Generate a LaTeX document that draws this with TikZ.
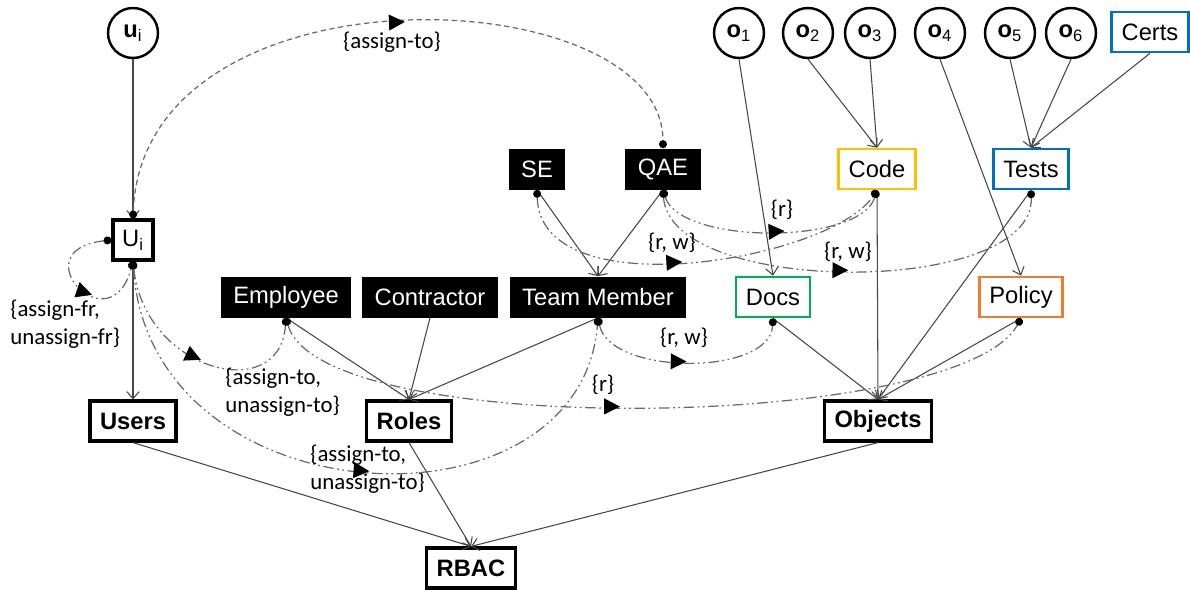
\documentclass[tikz,border=0pt]{standalone}
\usepackage{fontspec}
\setmainfont{Liberation Sans}
\newfontfamily\lblfont{Carlito}
\usetikzlibrary{arrows.meta,decorations.markings}
\definecolor{codecol}{RGB}{255,192,0}
\definecolor{testcol}{RGB}{0,112,192}
\definecolor{doccol}{RGB}{0,176,80}
\definecolor{polcol}{RGB}{237,125,49}
\definecolor{linecol}{RGB}{70,70,70}
\definecolor{arccol}{RGB}{105,105,105}
\begin{document}
\begin{tikzpicture}[x=0.02cm,y=-0.02cm,
    every node/.style={font=\fontsize{13.5}{16}\selectfont},
    obj/.style={circle,draw,line width=1.4pt,minimum size=1cm,inner sep=0pt},
    role/.style={fill=black,text=white,minimum height=0.82cm,inner xsep=0.25cm},
    kind/.style={draw=#1,line width=1.5pt,minimum height=0.8cm,inner xsep=0.2cm},
    base/.style={draw,line width=1.8pt,font=\fontsize{13.5}{16}\selectfont\bfseries,minimum height=0.8cm,inner xsep=0.2cm},
    lbl/.style={font=\lblfont\fontsize{13}{16}\selectfont,align=left,inner sep=0pt},
    link/.style={draw=linecol,line width=0.6pt,-{Straight Barb[length=4pt,width=7pt]}},
    perm/.style={draw=arccol,line width=0.7pt,
        {Circle[length=4.5pt,color=black]}-{Circle[length=4.5pt,color=black]},
        dash pattern=on 6pt off 2pt on 1pt off 2pt on 1pt off 2pt,
        postaction={decorate},
        decoration={markings,mark=at position #1 with {\arrow[black]{Triangle[length=9pt,width=9pt]}}}},
    perm/.default=0.5]
\useasboundingbox (0,0) rectangle (1190,589);

\node[obj] (ui) at (133,33) {\textbf{u}\textsubscript{i}};
\foreach \i/\x in {1/739,2/808,3/870,4/940,5/1010,6/1071}
    \node[obj] (o\i) at (\x,33) {\textbf{o}\textsubscript{\i}};
\node[kind=testcol] (certs) at (1150,32) {Certs};
\node[draw,line width=1.8pt,minimum size=0.8cm,inner sep=0pt] (Ui) at (133,240) {U\textsubscript{i}};
\node[role] (se) at (537,169) {SE};
\node[role] (qae) at (663,169) {QAE};
\node[kind=codecol] (code) at (877,169) {Code};
\node[kind=testcol] (tests) at (1031,169) {Tests};
\node[role] (employee) at (286,297) {Employee};
\node[role] (contractor) at (430,297) {Contractor};
\node[role] (member) at (598,297) {Team Member};
\node[kind=doccol] (docs) at (773,297) {Docs};
\node[kind=polcol] (policy) at (1021,297) {Policy};
\node[base] (users) at (133,421) {Users};
\node[base] (roles) at (409,421) {Roles};
\node[base] (objects) at (878,421) {Objects};
\node[base] (rbac) at (471,568) {RBAC};

\draw[link] (ui) -- (Ui);
\draw[link] (Ui.south) -- (users.north);
\foreach \a/\b in {se/member,qae/member,employee/roles,contractor/roles,member/roles,
    users/rbac,roles/rbac,objects/rbac,o1/docs,o2/code,o3/code,o4/policy,
    o5/tests,o6/tests,certs/tests,docs/objects,code/objects,tests/objects,policy/objects}
    \draw[link] (\a.south) -- (\b.north);

\draw[perm=0.54,dash pattern=on 3pt off 2pt] (Ui.north) .. controls +(10,-260) and +(0,-170) .. (qae.north);
\draw[perm=0.6] (Ui.west) .. controls +(-92,10) and +(-23,85) .. (Ui.south);
\draw[perm=0.52] (Ui.south) .. controls +(12,110) and +(-6,88) .. (employee.south);
\draw[perm=0.53] (Ui.south) .. controls +(17,260) and +(-18,223) .. (member.south);
\draw[perm=0.46] (employee.south) .. controls +(34,123) and +(-61,113) .. (policy.south);
\draw[perm] (member.south) .. controls +(12,58) and +(-3,58) .. (docs.south);
\draw[perm=0.46] (se.south) .. controls +(3,120) and +(-47,70) .. (code.south);
\draw[perm=0.56] (qae.south) .. controls +(17,55) and +(-17,55) .. (code.south);
\draw[perm] (qae.south) .. controls +(7,107) and +(4,107) .. (tests.south);

\node[lbl] (lassign) at (392,42) {\{assign-to\}};
\node[lbl,anchor=west] (lself) at (10,324) {\{assign-fr,\\unassign-fr\}};
\node[lbl,anchor=west] (lemp) at (225,392) {\{assign-to,\\unassign-to\}};
\node[lbl,anchor=west] (lmem) at (310,469) {\{assign-to,\\unassign-to\}};
\node[lbl] (lpol) at (603,385) {\{r\}};
\node[lbl] (ldocs) at (684,338) {\{r, w\}};
\node[lbl] (lse) at (672,243) {\{r, w\}};
\node[lbl] (lqcode) at (782,210) {\{r\}};
\node[lbl] (ltests) at (848,252) {\{r, w\}};
\end{tikzpicture}
\end{document}
